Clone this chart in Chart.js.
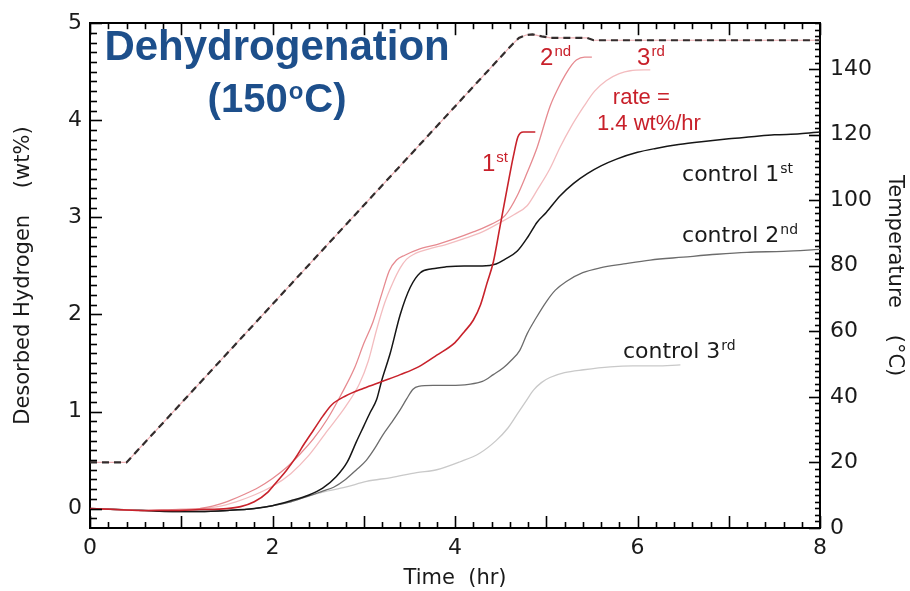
<!DOCTYPE html>
<html><head><meta charset="utf-8">
<script src="https://cdn.jsdelivr.net/npm/chart.js@4/dist/chart.umd.min.js"></script>
<style>html,body{margin:0;padding:0;background:#fff;overflow:hidden}canvas{display:block}</style>
</head><body>
<canvas id="c" width="910" height="591"></canvas>
<script>
// ---- data (time in hr, desorbed hydrogen in wt%, temperature in °C) ----
const xTickLabels = [0, 2, 4, 6, 8];
const yTickLabels = [0, 1, 2, 3, 4, 5];
const tempTickLabels = [0, 20, 40, 60, 80, 100, 120, 140];

const tempTime = [0, 0.4, 4.62, 4.7, 4.78, 4.85, 4.95, 5.05, 5.45, 5.52, 8];
const tempC    = [20, 20, 147.3, 149.5, 150.4, 150.6, 150.0, 149.5, 149.5, 148.8, 148.8];

const run1Time = [0, 0.3, 0.6, 0.9, 1.2, 1.5, 1.65, 1.8, 1.95, 2.05, 2.15, 2.25, 2.35, 2.45, 2.55, 2.65, 2.8, 3.0, 3.2, 3.4, 3.6, 3.8, 4.0, 4.1, 4.2, 4.28, 4.35, 4.42, 4.49, 4.57, 4.64, 4.69, 4.75, 4.88];
const run1H2   = [0.0, -0.01, -0.02, -0.02, -0.01, 0.0, 0.02, 0.07, 0.17, 0.28, 0.39, 0.52, 0.67, 0.81, 0.95, 1.07, 1.16, 1.24, 1.31, 1.38, 1.46, 1.58, 1.71, 1.82, 1.94, 2.1, 2.32, 2.54, 2.89, 3.29, 3.63, 3.83, 3.88, 3.88];

const run2Time = [0, 0.3, 0.6, 0.9, 1.2, 1.4, 1.55, 1.7, 1.85, 2.0, 2.15, 2.3, 2.45, 2.6, 2.75, 2.9, 3.0, 3.1, 3.2, 3.28, 3.36, 3.45, 3.6, 3.8, 4.0, 4.2, 4.4, 4.55, 4.68, 4.79, 4.9, 5.04, 5.13, 5.21, 5.28, 5.33, 5.42, 5.5];
const run2H2   = [0.0, -0.01, -0.02, -0.01, 0.0, 0.04, 0.09, 0.15, 0.22, 0.31, 0.42, 0.56, 0.72, 0.92, 1.17, 1.45, 1.7, 1.92, 2.22, 2.45, 2.56, 2.61, 2.67, 2.72, 2.78, 2.85, 2.93, 3.02, 3.22, 3.46, 3.72, 4.14, 4.33, 4.47, 4.57, 4.62, 4.65, 4.65];

const run3Time = [0, 0.3, 0.6, 0.9, 1.2, 1.4, 1.6, 1.8, 2.0, 2.2, 2.4, 2.6, 2.8, 2.95, 3.05, 3.14, 3.23, 3.32, 3.4, 3.47, 3.55, 3.7, 3.9, 4.1, 4.3, 4.5, 4.65, 4.79, 4.9, 5.04, 5.15, 5.27, 5.41, 5.53, 5.66, 5.8, 5.92, 6.14];
const run3H2   = [0.0, -0.01, -0.02, -0.01, 0.0, 0.02, 0.07, 0.14, 0.23, 0.36, 0.55, 0.8, 1.05, 1.28, 1.52, 1.84, 2.12, 2.33, 2.48, 2.57, 2.62, 2.67, 2.72, 2.78, 2.85, 2.95, 3.03, 3.12, 3.28, 3.5, 3.72, 3.93, 4.14, 4.3, 4.41, 4.48, 4.51, 4.52];

const ctl1Time = [0, 0.3, 0.6, 0.9, 1.2, 1.5, 1.8, 2.0, 2.2, 2.4, 2.55, 2.7, 2.82, 2.92, 3.0, 3.07, 3.14, 3.2, 3.29, 3.4, 3.51, 3.62, 3.75, 3.9, 4.1, 4.3, 4.45, 4.55, 4.68, 4.8, 4.9, 5.0, 5.15, 5.3, 5.45, 5.6, 5.77, 6.0, 6.2, 6.45, 6.7, 7.0, 7.25, 7.5, 7.78, 8.0];
const ctl1H2   = [0.0, -0.01, -0.02, -0.03, -0.03, -0.02, 0.0, 0.03, 0.08, 0.14, 0.21, 0.33, 0.48, 0.69, 0.85, 0.99, 1.12, 1.33, 1.6, 2.0, 2.28, 2.43, 2.47, 2.49, 2.5, 2.5, 2.52, 2.57, 2.65, 2.8, 2.95, 3.05, 3.22, 3.35, 3.45, 3.53, 3.6, 3.67, 3.71, 3.75, 3.78, 3.81, 3.83, 3.85, 3.86, 3.88];

const ctl2Time = [0, 0.3, 0.6, 0.9, 1.2, 1.5, 1.8, 2.0, 2.2, 2.4, 2.55, 2.67, 2.8, 2.92, 3.03, 3.12, 3.21, 3.3, 3.4, 3.47, 3.54, 3.6, 3.76, 3.95, 4.15, 4.3, 4.42, 4.53, 4.62, 4.71, 4.79, 4.88, 5.0, 5.1, 5.22, 5.4, 5.59, 5.85, 6.14, 6.5, 6.87, 7.2, 7.6, 8.0];
const ctl2H2   = [0.0, -0.01, -0.02, -0.03, -0.03, -0.02, 0.0, 0.03, 0.07, 0.13, 0.18, 0.22, 0.3, 0.4, 0.5, 0.62, 0.76, 0.88, 1.02, 1.13, 1.23, 1.26, 1.27, 1.27, 1.28, 1.31, 1.38, 1.45, 1.53, 1.63, 1.8, 1.95, 2.13, 2.25, 2.34, 2.43, 2.48, 2.52, 2.56, 2.59, 2.62, 2.64, 2.65, 2.67];

const ctl3Time = [0, 0.3, 0.6, 0.9, 1.2, 1.5, 1.8, 2.0, 2.2, 2.4, 2.55, 2.8, 3.03, 3.3, 3.58, 3.8, 4.05, 4.27, 4.45, 4.58, 4.68, 4.78, 4.86, 4.95, 5.04, 5.2, 5.41, 5.7, 5.95, 6.2, 6.47];
const ctl3H2   = [0.0, -0.01, -0.02, -0.03, -0.03, -0.02, 0.0, 0.03, 0.07, 0.13, 0.17, 0.22, 0.28, 0.32, 0.37, 0.4, 0.48, 0.57, 0.7, 0.83, 0.97, 1.11, 1.22, 1.3, 1.35, 1.4, 1.43, 1.46, 1.47, 1.47, 1.48];

// ---- annotation texts (anchors in data units: time, wt%) ----
const runLabels = [
  {base: '1', sup: 'st', t: 4.296, w: 3.477},
  {base: '2', sup: 'nd', t: 4.932, w: 4.572},
  {base: '3', sup: 'rd', t: 5.995, w: 4.572}
];
const rateLines = [
  {text: 'rate =', t: 5.73, w: 4.166},
  {text: '1.4 wt%/hr', t: 5.556, w: 3.903}
];
const controlLabels = [
  {base: 'control 1', sup: 'st', t: 6.488, w: 3.376},
  {base: 'control 2', sup: 'nd', t: 6.488, w: 2.747},
  {base: 'control 3', sup: 'rd', t: 5.841, w: 1.551}
];
const titleLine1 = 'Dehydrogenation';
const titleLine2 = ['(150', 'o', 'C)'];

// ---- build ----
const pts = (xs, ys) => xs.map((x, i) => ({x: x, y: ys[i]}));
const AX = "'DejaVu Sans', sans-serif";
const AR = "'Liberation Sans', Arial, sans-serif";

function line(ds, color, width, extra) {
  return Object.assign({
    data: ds, borderColor: color, borderWidth: width, pointRadius: 0,
    fill: false, cubicInterpolationMode: 'monotone', xAxisID: 'x', yAxisID: 'y'
  }, extra || {});
}

const datasets = [
  line(pts(run1Time, run1H2), '#c8222b', 1.6),
  line(pts(run2Time, run2H2), '#e68a90', 1.3),
  line(pts(run3Time, run3H2), '#f3bcbf', 1.3),
  line(pts(ctl1Time, ctl1H2), '#161616', 1.5),
  line(pts(ctl2Time, ctl2H2), '#6c6c6c', 1.3),
  line(pts(ctl3Time, ctl3H2), '#c9c9c9', 1.3),
  line(pts(tempTime, tempC), '#332d2d', 2.2, {yAxisID: 'yT', borderDash: [7, 5], cubicInterpolationMode: 'default', tension: 0}),
  line(pts(tempTime, tempC), '#eeb0b4', 1.2, {yAxisID: 'yT', cubicInterpolationMode: 'default', tension: 0})
];

function setTicks(list) { return s => { s.ticks = list.map(v => ({value: v})); }; }

const inTicks = {
  id: 'inTicks',
  afterDraw(chart) {
    const ctx = chart.ctx, a = chart.chartArea;
    const sx = chart.scales.x, sy = chart.scales.y, sr = chart.scales.yT;
    ctx.save();
    ctx.strokeStyle = '#000';
    ctx.lineWidth = 1.6;
    const seg = (x1, y1, x2, y2) => { ctx.beginPath(); ctx.moveTo(x1, y1); ctx.lineTo(x2, y2); ctx.stroke(); };
    for (let i = 0; i <= 40; i++) {
      const px = Math.round(sx.getPixelForValue(i * 0.2)) + 0.5;
      const len = (i % 5 === 0) ? 12 : 6;
      seg(px, a.bottom, px, a.bottom - len);
      seg(px, a.top, px, a.top + len);
    }
    for (let i = -1; i <= 50; i++) {
      const py = Math.round(sy.getPixelForValue(i * 0.1)) + 0.5;
      const len = (i % 10 === 0) ? 12 : 7;
      seg(a.left, py, a.left + len, py);
    }
    for (let i = 0; i <= 77; i++) {
      const v = i * 2;
      const py = Math.round(sr.getPixelForValue(v)) + 0.5;
      const len = (v % 20 === 0) ? 11 : 5;
      seg(a.right, py, a.right - len, py);
    }
    ctx.restore();
  }
};

function supText(ctx, x, y, base, sup, size, supSize, family, color, raise) {
  ctx.fillStyle = color;
  ctx.textAlign = 'left';
  ctx.textBaseline = 'alphabetic';
  ctx.font = size + 'px ' + family;
  ctx.fillText(base, x, y);
  const w = ctx.measureText(base).width;
  ctx.font = supSize + 'px ' + family;
  ctx.fillText(sup, x + w + 1, y - raise);
}

const annotations = {
  id: 'annotations',
  afterDraw(chart) {
    const ctx = chart.ctx, sx = chart.scales.x, sy = chart.scales.y;
    ctx.save();
    runLabels.forEach(l => supText(ctx, sx.getPixelForValue(l.t), sy.getPixelForValue(l.w), l.base, l.sup, 24, 15, AR, '#c8202a', 9));
    ctx.font = '22px ' + AR;
    ctx.fillStyle = '#c8202a';
    ctx.textAlign = 'left';
    ctx.textBaseline = 'alphabetic';
    rateLines.forEach(l => ctx.fillText(l.text, sx.getPixelForValue(l.t), sy.getPixelForValue(l.w)));
    controlLabels.forEach(l => supText(ctx, sx.getPixelForValue(l.t), sy.getPixelForValue(l.w), l.base, l.sup, 22, 14, AX, '#1a1a1a', 8));
    // title
    const cx = sx.getPixelForValue(2.05);
    ctx.fillStyle = '#1d4f8b';
    ctx.textBaseline = 'alphabetic';
    ctx.font = 'bold 42px ' + AR;
    ctx.textAlign = 'center';
    ctx.fillText(titleLine1, cx, 60);
    ctx.textAlign = 'left';
    const big = 'bold 40px ' + AR, small = 'bold 24px ' + AR;
    ctx.font = big; const w1 = ctx.measureText(titleLine2[0]).width;
    ctx.font = small; const w2 = ctx.measureText(titleLine2[1]).width;
    ctx.font = big; const w3 = ctx.measureText(titleLine2[2]).width;
    let x0 = cx - (w1 + w2 + w3 + 2) / 2;
    ctx.font = big; ctx.fillText(titleLine2[0], x0, 112);
    ctx.font = small; ctx.fillText(titleLine2[1], x0 + w1 + 1, 99);
    ctx.font = big; ctx.fillText(titleLine2[2], x0 + w1 + w2 + 2, 112);
    ctx.restore();
  }
};

new Chart(document.getElementById('c'), {
  type: 'line',
  data: {datasets: datasets},
  options: {
    responsive: false,
    animation: false,
    devicePixelRatio: 1,
    layout: {padding: 0},
    plugins: {legend: {display: false}, tooltip: {enabled: false}},
    scales: {
      x: {
        type: 'linear', position: 'bottom', min: 0, max: 8,
        afterBuildTicks: setTicks(xTickLabels),
        afterFit: s => { s.height = 63; },
        grid: {display: false, drawTicks: false},
        border: {display: true, color: '#000', width: 2},
        ticks: {font: {family: AX, size: 22}, color: '#1a1a1a', padding: 7, maxRotation: 0},
        title: {display: true, text: 'Time  (hr)', font: {family: AX, size: 21}, color: '#1a1a1a', padding: {top: 0, bottom: 0}}
      },
      xTop: {
        type: 'linear', position: 'top', min: 0, max: 8,
        afterFit: s => { s.height = 15; },
        grid: {display: false, drawTicks: false},
        border: {display: true, color: '#000', width: 2},
        ticks: {display: false}
      },
      y: {
        type: 'linear', position: 'left', min: -0.2, max: 5,
        afterBuildTicks: setTicks(yTickLabels),
        afterFit: s => { s.width = 90; },
        grid: {display: false, drawTicks: false},
        border: {display: true, color: '#000', width: 2},
        ticks: {font: {family: AX, size: 22}, color: '#1a1a1a', padding: 8},
        title: {display: true, text: 'Desorbed Hydrogen    (wt%)', font: {family: AX, size: 21}, color: '#1a1a1a', padding: {top: 11, bottom: 0}}
      },
      yT: {
        type: 'linear', position: 'right', min: 0, max: 154,
        afterBuildTicks: setTicks(tempTickLabels),
        afterFit: s => { s.width = 90; },
        grid: {display: false, drawTicks: false},
        border: {display: true, color: '#000', width: 2},
        ticks: {font: {family: AX, size: 22}, color: '#1a1a1a', padding: 10},
        title: {display: true, text: 'Temperature    (°C)', font: {family: AX, size: 21}, color: '#1a1a1a', padding: {top: 3, bottom: 0}}
      }
    }
  },
  plugins: [inTicks, annotations]
});
</script>
</body></html>
